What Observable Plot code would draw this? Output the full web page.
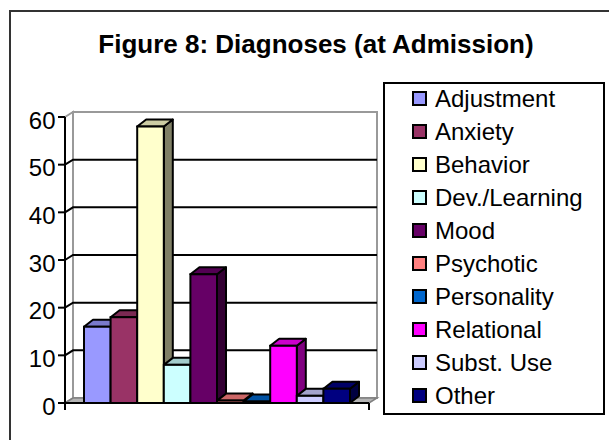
<!DOCTYPE html>
<html><head><meta charset="utf-8">
<script src="https://cdn.jsdelivr.net/npm/d3@7"></script>
<script src="https://cdn.jsdelivr.net/npm/@observablehq/plot@0.6"></script>
<style>
html,body{margin:0;padding:0;background:#fff;}
#page{position:relative;width:609px;height:440px;overflow:hidden;font-family:"Liberation Sans",Arial,sans-serif;background:#fff;}
#frame{position:absolute;left:9px;top:10px;width:640px;height:480px;border-left:2px solid #333;border-top:2px solid #333;}
#title{position:absolute;left:0;width:632px;top:31px;text-align:center;font-weight:bold;font-size:26px;line-height:26px;color:#000;white-space:nowrap;}
#chart{position:absolute;left:0;top:80px;}
#legend{position:absolute;left:383px;top:82px;width:218px;height:329px;border:2px solid #000;background:#fff;}
.item{position:absolute;left:0;height:33px;display:flex;align-items:center;white-space:nowrap;}
.sw{width:11px;height:11px;border:2px solid #000;margin-left:27px;margin-right:8px;flex:none;}
.lb{font-size:24px;color:#000;}
</style>
</head><body>
<div id="page">
  <div id="frame"></div>
  <div id="title">Figure 8: Diagnoses (at Admission)</div>
  <div id="chart"></div>
  <div id="legend"></div>
</div>
<script>
const categories = ["Adjustment", "Anxiety", "Behavior", "Dev./Learning", "Mood", "Psychotic", "Personality", "Relational", "Subst. Use", "Other"];
const counts = [16, 18, 58, 8, 27, 0.5, 0.3, 12, 1.5, 3];
const colors = ["#9999FF", "#993366", "#FFFFCC", "#CCFFFF", "#660066", "#FF8080", "#0066CC", "#FF00FF", "#CCCCFF", "#000080"];
const yTicks = [0, 10, 20, 30, 40, 50, 60];
const gridTicks = [10, 20, 30, 40, 50];

const data = categories.map((c, i) => ({cat: c, value: counts[i]}));

const WX = 8, WY = 5;   // back wall depth offset
const BX = 9, BY = 7;   // bar depth offset

function shade(c, k) {
  const r = d3.rgb(c);
  return d3.rgb(r.r * k, r.g * k, r.b * k).formatHex();
}

function walls(index, scales, values, dims) {
  const {y} = scales;
  const L = dims.marginLeft - 19, R = dims.width - dims.marginRight + 19;
  const y0 = y(0), yT = y(60);
  const g = d3.create("svg:g");
  g.append("path").attr("d", `M${L + WX},${yT - WY}H${R + WX}V${y0 - WY}H${L + WX}Z`)
    .attr("fill", "#fff").attr("stroke", "#999").attr("stroke-width", 2);
  g.append("path").attr("d", `M${L},${yT}L${L + WX},${yT - WY}V${y0 - WY}L${L},${y0}Z`)
    .attr("fill", "#fff").attr("stroke", "#999").attr("stroke-width", 2);
  for (const t of gridTicks) {
    g.append("path").attr("d", `M${L},${y(t)}L${L + WX},${y(t) - WY}H${R + WX}`)
      .attr("fill", "none").attr("stroke", "#000").attr("stroke-width", 2);
  }
  g.append("path").attr("d", `M${L},${y0}L${L + WX},${y0 - WY}H${R + WX}L${R},${y0}Z`)
    .attr("fill", "#b4b4b4").attr("stroke", "#808080").attr("stroke-width", 1.5);
  g.append("path").attr("d", `M${L},${yT}V${y0 + 7}M${L},${y0}H${R}M${R},${y0}V${y0 + 7}`)
    .attr("fill", "none").attr("stroke", "#000").attr("stroke-width", 2);
  for (const t of yTicks) {
    g.append("path").attr("d", `M${L - 7},${y(t)}H${L}`)
      .attr("stroke", "#000").attr("stroke-width", 2);
  }
  return g.node();
}

function bars3d(index, scales) {
  const {x, y, color} = scales;
  const bw = x.bandwidth();
  const g = d3.create("svg:g").attr("stroke", "#000").attr("stroke-width", 2).attr("stroke-linejoin", "round");
  data.forEach(d => {
    const x1 = x(d.cat), x2 = x1 + bw, yt = y(d.value), yb = y(0);
    const c = color(d.cat);
    g.append("path").attr("d", `M${x2},${yt}L${x2 + BX},${yt - BY}V${yb - BY}L${x2},${yb}Z`).attr("fill", shade(c, 0.5));
    g.append("path").attr("d", `M${x1},${yt}L${x1 + BX},${yt - BY}H${x2 + BX}L${x2},${yt}Z`).attr("fill", shade(c, 0.8));
  });
  return g.node();
}

const chart = Plot.plot({
  width: 390,
  height: 350,
  marginTop: 37,
  marginBottom: 27,
  marginLeft: 84,
  marginRight: 40,
  style: {background: "transparent", fontFamily: "'Liberation Sans', Arial, sans-serif", overflow: "visible"},
  x: {domain: categories, padding: 0, round: false, axis: null},
  y: {domain: [0, 60], axis: null},
  color: {domain: categories, range: colors},
  marks: [
    walls,
    bars3d,
    Plot.barY(data, {x: "cat", y: "value", fill: "cat", stroke: "#000", strokeWidth: 2, insetLeft: 0, insetRight: 0}),
    Plot.text(yTicks, {y: d => d, text: d => String(d), frameAnchor: "left", dx: -29, dy: 3.5, textAnchor: "end", fontSize: 24, fill: "#000"})
  ]
});
document.getElementById("chart").appendChild(chart);

const legend = document.getElementById("legend");
categories.forEach((c, i) => {
  const it = document.createElement("div");
  it.className = "item";
  it.style.top = (-2 + 33 * i) + "px";
  const sw = document.createElement("div");
  sw.className = "sw";
  sw.style.background = colors[i];
  const lb = document.createElement("span");
  lb.className = "lb";
  lb.textContent = c;
  it.appendChild(sw); it.appendChild(lb);
  legend.appendChild(it);
});
</script>
</body></html>
